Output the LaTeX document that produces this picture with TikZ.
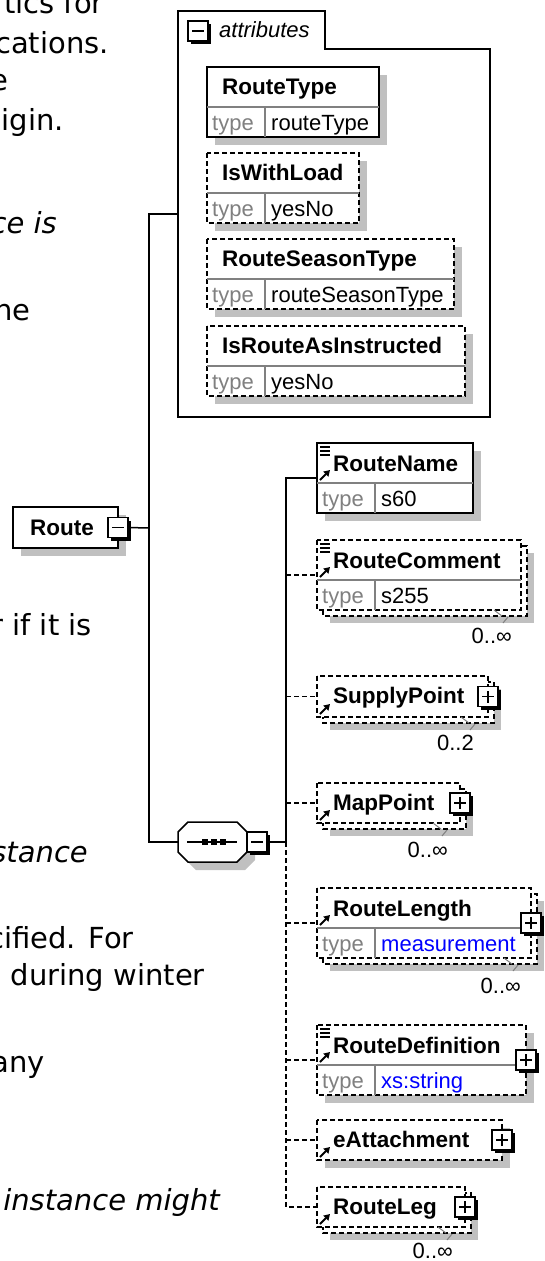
\documentclass[tikz,border=0pt]{standalone}
\usepackage{fontspec}
\setmainfont{DejaVu Sans}
\newfontfamily\dgm{Liberation Sans}
\usetikzlibrary{arrows.meta}
\definecolor{shadowc}{HTML}{C0C0C0}
\definecolor{typegray}{HTML}{808080}
\definecolor{divgray}{HTML}{808080}
\definecolor{linkblue}{HTML}{0000FF}

\newcommand\mkbox[6]{%
  \node[bx, minimum width=#4pt, minimum height=#5pt] (#1) at (#2,#3) {};
  \fill[shadowc] ([shift={(8,8)}]#1.north west) rectangle ([shift={(8,8)}]#1.south east);
  \filldraw[#6] (#1.north west) rectangle (#1.south east);
}
\newcommand\mkstack[5]{%
  \node[bx, minimum width=#4pt, minimum height=#5pt] (#1b) at (#2+6,#3+6) {};
  \node[bx, minimum width=#4pt, minimum height=#5pt] (#1) at (#2,#3) {};
  \fill[shadowc] ([shift={(7,7)}]#1b.north west) rectangle ([shift={(7,7)}]#1b.south east);
  \filldraw[dfrm] (#1b.north west) rectangle (#1b.south east);
  \filldraw[dfrm] (#1.north west) rectangle (#1.south east);
  \draw[tickl] ([shift={(-33,-6)}]#1b.south east) -- ([shift={(-25,0)}]#1b.south east);
  \draw[tickl] ([shift={(-19,1)}]#1b.south east) -- ([shift={(-24,7)}]#1b.south east);
}
\newcommand\typerow[2]{%
  \draw[divl] ([yshift=-40pt]#1.north west) -- ([yshift=-40pt]#1.north east);
  \draw[divl] ([shift={(58,40)}]#1.north west) -- ([xshift=58pt]#1.south west);
  \node[keyt] (#1-k) at ([shift={(5,63)}]#1.north west) {type};
  \node[valt] (#1-v) at ([shift={(64,63)}]#1.north west) {#2};
}
\newcommand\ttlat[4]{\node[ttl] (#1-t) at ([shift={(#2,#3)}]#1.north west) {#4};}
\newcommand\pmsquare[2]{%
  \fill[black] ([shift={(-7,-7)}]#2) rectangle ([shift={(13,13)}]#2);
  \node[pmsq] (#1) at (#2) {};
  \draw[pmsign] ([xshift=-6pt]#1.center) -- ([xshift=6pt]#1.center);
}
\newcommand\plusbox[2]{\pmsquare{#1}{#2}\draw[pmsign] ([yshift=-6pt]#1.center) -- ([yshift=6pt]#1.center);}
\newcommand\minusbox[2]{\pmsquare{#1}{#2}}
\newcommand\refarr[2]{\draw[refa] ([shift={(3,#2-3)}]#1.north west) -- ([shift={(13,#2-13)}]#1.north west);}
\newcommand\docicon[1]{%
  \draw[docl] ([shift={(3,4)}]#1.north west) -- ([shift={(13,4)}]#1.north west);
  \draw[docl] ([shift={(3,8)}]#1.north west) -- ([shift={(13,8)}]#1.north west);
  \draw[docl] ([shift={(3,12)}]#1.north west) -- ([shift={(13,12)}]#1.north west);
}

\begin{document}
\begin{tikzpicture}[
  x=1pt, y=-1pt,
  bx/.style={anchor=north west, inner sep=0pt, outer sep=0pt, draw=none, rectangle},
  sfrm/.style={draw=black, fill=white, line width=1.6pt},
  dfrm/.style={sfrm, dash pattern=on 5pt off 3pt},
  cfrm/.style={draw=black, line width=1.5pt, line join=miter},
  divl/.style={draw=divgray, line width=1.2pt},
  tickl/.style={draw=gray, line width=1pt},
  conn/.style={draw=black, line width=1.5pt},
  dconn/.style={conn, dash pattern=on 5pt off 3pt},
  ttl/.style={anchor=base west, inner sep=0pt, font=\dgm\fontsize{22.5}{27}\selectfont\bfseries},
  keyt/.style={anchor=base west, inner sep=0pt, text=typegray, font=\dgm\fontsize{22}{26}\selectfont},
  valt/.style={anchor=base west, inner sep=0pt, font=\dgm\fontsize{22}{26}\selectfont},
  mult/.style={anchor=base east, inner sep=0pt, font=\dgm\fontsize{22}{26}\selectfont},
  attl/.style={anchor=base west, inner sep=0pt, font=\dgm\fontsize{22}{26}\selectfont\itshape},
  lt/.style={anchor=base east, inner sep=0pt, font=\fontsize{29}{35}\selectfont},
  lti/.style={anchor=base east, inner sep=0pt, font=\fontsize{29}{35}\selectfont\itshape},
  pmsq/.style={draw=black, fill=white, line width=1.4pt, minimum size=20pt, inner sep=0pt, outer sep=0pt, rectangle},
  pmsign/.style={draw=black, line width=1.5pt},
  refa/.style={draw=black, line width=2pt, -{Triangle[length=6pt,width=7pt]}},
  docl/.style={draw=black, line width=1.1pt},
]
\useasboundingbox (0,0) rectangle (544,1261);
\fill[white] (0,0) rectangle (544,1261);

% left text fragments
\node[lt] (l1) at (104,13) {tics for};
\node[lt] (l2) at (109,53) {cations.};
\node[lt] (l3) at (9,90) {e};
\node[lt] (l4) at (64,130) {igin.};
\node[lti] (l5) at (57,233) {ce is};
\node[lt] (l6) at (31,320) {he};
\node[lt] (l7) at (92,635) {r if it is};
\node[lti] (l8) at (88,862) {stance};
\node[lt] (l9) at (134,948) {cified. For};
\node[lt] (l10) at (205,985) {during winter};
\node[lt] (l11) at (45,1072) {any};
\node[lti] (l12) at (220,1210) {instance might};

% attributes container
\node[bx, minimum width=312pt, minimum height=406pt] (attrs) at (178,11) {};
\draw[cfrm] (attrs.north west) -- ([xshift=147pt]attrs.north west) -- ([shift={(147,38)}]attrs.north west)
  -- ([yshift=-38pt]attrs.north east) -- (attrs.south east) -- (attrs.south west) -- cycle;
\coordinate (attmc) at (198,31);
\minusbox{attm}{attmc}
\node[attl] (attlabel) at (219,37) {attributes};

\mkbox{rt}{207}{67}{172}{70}{sfrm}
\ttlat{rt}{15}{27}{RouteType}
\typerow{rt}{routeType}

\mkbox{iwl}{207}{153}{152}{70}{dfrm}
\ttlat{iwl}{15}{27}{IsWithLoad}
\typerow{iwl}{yesNo}

\mkbox{rst}{207}{239}{247}{70}{dfrm}
\ttlat{rst}{15}{27}{RouteSeasonType}
\typerow{rst}{routeSeasonType}

\mkbox{rai}{207}{326}{258}{70}{dfrm}
\ttlat{rai}{15}{27}{IsRouteAsInstructed}
\typerow{rai}{yesNo}

% Route element
\mkbox{route}{13}{507}{105}{41}{sfrm}
\ttlat{route}{17}{28}{Route}
\minusbox{routem}{route.east}

% sequence compositor
\node[bx, minimum width=69pt, minimum height=40pt] (seq) at (178,822) {};
\fill[shadowc, transform canvas={shift={(8pt,-8pt)}}] ([xshift=10pt]seq.north west) -- ([xshift=-10pt]seq.north east) -- ([yshift=-10pt]seq.north east) -- ([yshift=10pt]seq.south east) -- ([xshift=-10pt]seq.south east) -- ([xshift=10pt]seq.south west) -- ([yshift=10pt]seq.south west) -- ([yshift=-10pt]seq.north west) -- cycle;
\filldraw[sfrm, line width=1.5pt] ([xshift=10pt]seq.north west) -- ([xshift=-10pt]seq.north east) -- ([yshift=-10pt]seq.north east) -- ([yshift=10pt]seq.south east) -- ([xshift=-10pt]seq.south east) -- ([xshift=10pt]seq.south west) -- ([yshift=10pt]seq.south west) -- ([yshift=-10pt]seq.north west) -- cycle;
\draw[line width=1.3pt] ([xshift=9pt]seq.west) -- ([xshift=-10pt]seq.east);
\foreach \dx in {-8,1,10} \fill ([shift={(\dx-3,-3)}]seq.center) rectangle ([shift={(\dx+3,3)}]seq.center);
\coordinate (seqmc) at ([xshift=10pt]seq.east);
\minusbox{seqm}{seqmc}

% children
\mkbox{rn}{317}{443}{156}{70}{sfrm}
\ttlat{rn}{16}{28}{RouteName}
\typerow{rn}{s60}
\docicon{rn}\refarr{rn}{40}

\mkstack{rc}{317}{540}{204}{70}
\ttlat{rc}{16}{28}{RouteComment}
\typerow{rc}{s255}
\docicon{rc}\refarr{rc}{40}
\node[mult] (rc-m) at ([shift={(-15,27)}]rcb.south east) {0..∞};

\mkstack{sp}{317}{676}{171}{41}
\ttlat{sp}{16}{27}{SupplyPoint}
\refarr{sp}{41}
\plusbox{spp}{sp.east}
\node[mult] (sp-m) at ([shift={(-20,27)}]spb.south east) {0..2};

\mkstack{mp}{317}{783}{143}{40}
\ttlat{mp}{16}{27}{MapPoint}
\refarr{mp}{40}
\plusbox{mpp}{mp.east}
\node[mult] (mp-m) at ([shift={(-18,28)}]mpb.south east) {0..∞};

\mkstack{rlen}{317}{888}{214}{70}
\ttlat{rlen}{16}{28}{RouteLength}
\typerow{rlen}{\textcolor{linkblue}{measurement}}
\refarr{rlen}{40}
\plusbox{rlenp}{rlen.east}
\node[mult] (rlen-m) at ([shift={(-16,29)}]rlenb.south east) {0..∞};

\mkbox{rd}{317}{1025}{209}{70}{dfrm}
\ttlat{rd}{16}{28}{RouteDefinition}
\typerow{rd}{\textcolor{linkblue}{xs:string}}
\docicon{rd}\refarr{rd}{40}
\plusbox{rdp}{rd.east}

\mkbox{ea}{317}{1120}{185}{40}{dfrm}
\ttlat{ea}{16}{27}{eAttachment}
\refarr{ea}{40}
\plusbox{eap}{ea.east}

\mkstack{rleg}{317}{1187}{148}{40}
\ttlat{rleg}{16}{27}{RouteLeg}
\refarr{rleg}{40}
\plusbox{rlegp}{rleg.east}
\node[mult] (rleg-m) at ([shift={(-18,25)}]rlegb.south east) {0..∞};

% connectors
\coordinate (rj) at (149,528);
\draw[conn] (routem.east) -- (rj);
\draw[conn] (attrs.west) -| (rj) |- (seq.west);
\coordinate (bus) at (286,842);
\draw[conn] (seqm.east) -- (bus);
\draw[conn] (bus) |- (rn.west);
\draw[dconn] (rc.west -| bus) -- (rc.west);
\draw[dconn] (bus) |- (rleg.west);
\draw[dconn] (sp.west -| bus) -- (sp.west);
\draw[dconn] (mp.west -| bus) -- (mp.west);
\draw[dconn] (rlen.west -| bus) -- (rlen.west);
\draw[dconn] (rd.west -| bus) -- (rd.west);
\draw[dconn] (ea.west -| bus) -- (ea.west);
\end{tikzpicture}
\end{document}
